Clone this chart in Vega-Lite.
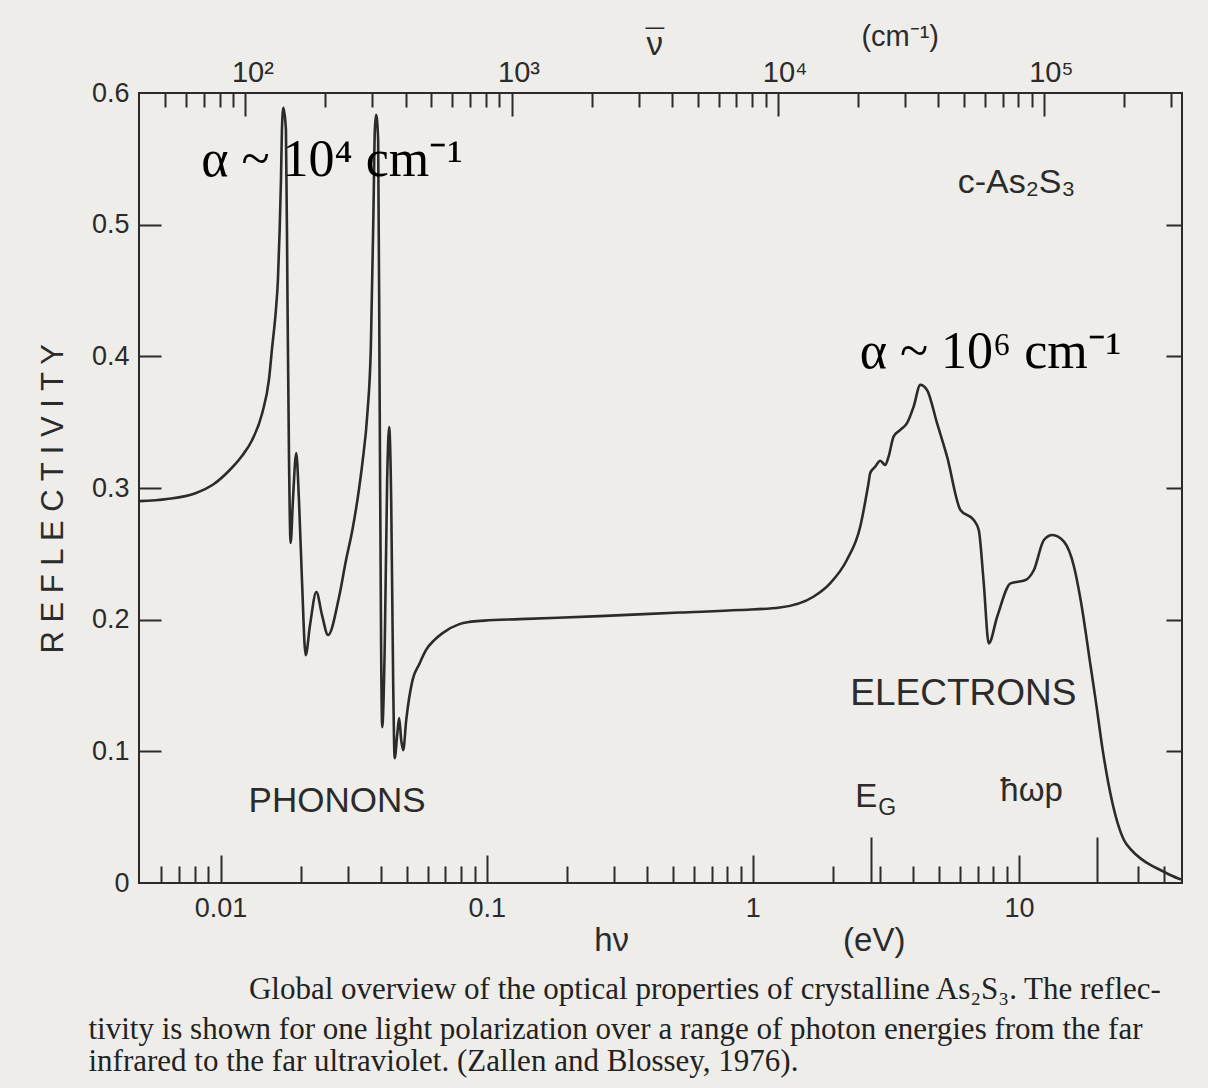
{
  "$schema": "https://vega.github.io/schema/vega-lite/v6.json",
  "width": 1043,
  "height": 790,
  "autosize": {"type": "none"},
  "padding": {"left": 139, "top": 93, "right": 26, "bottom": 205},
  "background": "#eeede9",
  "config": {
    "view": {"stroke": "#2b2b2b", "strokeWidth": 2},
    "axis": {
      "grid": false,
      "domain": false,
      "title": null,
      "tickColor": "#2b2b2b",
      "tickWidth": 2,
      "labelColor": "#2b2b2b",
      "labelFont": "Liberation Sans",
      "labelFontSize": 27,
      "labelOverlap": false,
      "labelFlush": false
    },
    "text": {"color": "#2b2b2b", "font": "Liberation Sans"}
  },
  "resolve": {"axis": {"x": "independent", "y": "independent"}},
  "layer": [
    {
      "data": {"values": [
        {"eV": 0.00494, "R": 0.2900}, {"eV": 0.00630, "R": 0.2916}, {"eV": 0.00805, "R": 0.2960},
        {"eV": 0.00944, "R": 0.3030}, {"eV": 0.01074, "R": 0.3129}, {"eV": 0.01203, "R": 0.3243},
        {"eV": 0.01315, "R": 0.3365}, {"eV": 0.01434, "R": 0.3568}, {"eV": 0.01520, "R": 0.3821},
        {"eV": 0.01564, "R": 0.4074}, {"eV": 0.01611, "R": 0.4328}, {"eV": 0.01643, "R": 0.4581},
        {"eV": 0.01668, "R": 0.4961}, {"eV": 0.01687, "R": 0.5341}, {"eV": 0.01701, "R": 0.5721},
        {"eV": 0.01723, "R": 0.5888}, {"eV": 0.01761, "R": 0.5720}, {"eV": 0.01785, "R": 0.4428},
        {"eV": 0.01807, "R": 0.3288}, {"eV": 0.01834, "R": 0.2582}, {"eV": 0.01871, "R": 0.2909},
        {"eV": 0.01925, "R": 0.3266}, {"eV": 0.01971, "R": 0.2909}, {"eV": 0.02023, "R": 0.2300},
        {"eV": 0.02089, "R": 0.1731}, {"eV": 0.02169, "R": 0.1959}, {"eV": 0.02291, "R": 0.2210},
        {"eV": 0.02406, "R": 0.2035}, {"eV": 0.02535, "R": 0.1883}, {"eV": 0.02788, "R": 0.2172},
        {"eV": 0.02962, "R": 0.2453}, {"eV": 0.03129, "R": 0.2681}, {"eV": 0.03289, "R": 0.2947},
        {"eV": 0.03412, "R": 0.3190}, {"eV": 0.03564, "R": 0.3570}, {"eV": 0.03671, "R": 0.4072},
        {"eV": 0.03754, "R": 0.5090}, {"eV": 0.03800, "R": 0.5720}, {"eV": 0.03843, "R": 0.5835},
        {"eV": 0.03910, "R": 0.5644}, {"eV": 0.03962, "R": 0.3668}, {"eV": 0.04013, "R": 0.1768},
        {"eV": 0.04049, "R": 0.1184}, {"eV": 0.04137, "R": 0.1768}, {"eV": 0.04227, "R": 0.3060},
        {"eV": 0.04301, "R": 0.3463}, {"eV": 0.04377, "R": 0.2910}, {"eV": 0.04452, "R": 0.1541},
        {"eV": 0.04511, "R": 0.0948}, {"eV": 0.04610, "R": 0.1123}, {"eV": 0.04690, "R": 0.1252},
        {"eV": 0.04773, "R": 0.1085}, {"eV": 0.04857, "R": 0.1009}, {"eV": 0.04985, "R": 0.1237},
        {"eV": 0.05264, "R": 0.1541}, {"eV": 0.05579, "R": 0.1662}, {"eV": 0.05912, "R": 0.1769},
        {"eV": 0.06354, "R": 0.1845}, {"eV": 0.06829, "R": 0.1898}, {"eV": 0.07891, "R": 0.1966},
        {"eV": 0.08606, "R": 0.1983}, {"eV": 0.09802, "R": 0.1993}, {"eV": 0.1328, "R": 0.2004},
        {"eV": 0.2656, "R": 0.2027}, {"eV": 0.5315, "R": 0.2054}, {"eV": 0.8941, "R": 0.2073},
        {"eV": 1.264, "R": 0.2092}, {"eV": 1.688, "R": 0.2174}, {"eV": 1.951, "R": 0.2276},
        {"eV": 2.255, "R": 0.2453}, {"eV": 2.531, "R": 0.2706}, {"eV": 2.720, "R": 0.3038},
        {"eV": 2.760, "R": 0.3114}, {"eV": 2.883, "R": 0.3162}, {"eV": 3.010, "R": 0.3207},
        {"eV": 3.144, "R": 0.3175}, {"eV": 3.235, "R": 0.3238}, {"eV": 3.378, "R": 0.3390},
        {"eV": 3.580, "R": 0.3441}, {"eV": 3.794, "R": 0.3492}, {"eV": 4.018, "R": 0.3618},
        {"eV": 4.257, "R": 0.3783}, {"eV": 4.511, "R": 0.3745}, {"eV": 4.920, "R": 0.3492},
        {"eV": 5.366, "R": 0.3238}, {"eV": 6.023, "R": 0.2833}, {"eV": 6.758, "R": 0.2757},
        {"eV": 7.057, "R": 0.2681}, {"eV": 7.370, "R": 0.2276}, {"eV": 7.697, "R": 0.1820},
        {"eV": 8.278, "R": 0.2022}, {"eV": 9.290, "R": 0.2276}, {"eV": 10.58, "R": 0.2301},
        {"eV": 11.37, "R": 0.2377}, {"eV": 12.40, "R": 0.2605}, {"eV": 13.34, "R": 0.2643},
        {"eV": 14.75, "R": 0.2592}, {"eV": 16.09, "R": 0.2402}, {"eV": 17.04, "R": 0.2149},
        {"eV": 18.59, "R": 0.1642}, {"eV": 19.41, "R": 0.1387}, {"eV": 20.63, "R": 0.1007},
        {"eV": 22.11, "R": 0.0667}, {"eV": 24.81, "R": 0.0325}, {"eV": 26.29, "R": 0.0256},
        {"eV": 28.67, "R": 0.0185}, {"eV": 31.27, "R": 0.0135}, {"eV": 34.11, "R": 0.0097},
        {"eV": 37.15, "R": 0.0059}, {"eV": 40.56, "R": 0.0026}
      ]},
      "mark": {"type": "line", "color": "#2b2b2b", "strokeWidth": 2.6, "interpolate": "monotone", "clip": true},
      "encoding": {
        "x": {"field": "eV", "type": "quantitative",
              "scale": {"type": "log", "domain": [0.00494, 40.95], "nice": false},
              "axis": {"orient": "bottom", "values": [0.01, 0.1, 1, 10], "format": "~g", "ticks": false, "labelPadding": 12}},
        "y": {"field": "R", "type": "quantitative",
              "scale": {"domain": [0, 0.6], "nice": false, "zero": false},
              "axis": {"orient": "left", "values": [0, 0.1, 0.2, 0.3, 0.4, 0.5, 0.6], "format": "~g", "ticks": false, "labelPadding": 10}}
      }
    },
    {
      "data": {"values": [
        {"t": "α ~ 10⁴ cm⁻¹", "eV": 0.02624, "R": 0.5493},
        {"t": "α ~ 10⁶ cm⁻¹", "eV": 7.811, "R": 0.4034}
      ]},
      "mark": {"type": "text", "font": "Liberation Serif", "fontSize": 52, "color": "#000000", "baseline": "middle"},
      "encoding": {
        "x": {"field": "eV", "type": "quantitative", "scale": {"type": "log", "domain": [0.00494, 40.95], "nice": false},
              "axis": {"orient": "bottom", "values": [0.01, 0.1, 1, 10], "labels": false, "tickSize": -28}},
        "y": {"field": "R", "type": "quantitative", "scale": {"domain": [0, 0.6], "nice": false, "zero": false},
              "axis": {"orient": "left", "values": [0.1, 0.2, 0.3, 0.4, 0.5], "labels": false, "tickSize": -22}},
        "text": {"field": "t"}
      }
    },
    {
      "data": {"values": [{"t": "PHONONS", "eV": 0.02741, "R": 0.0621}]},
      "mark": {"type": "text", "fontSize": 35, "baseline": "middle"},
      "encoding": {
        "x": {"field": "eV", "type": "quantitative", "scale": {"type": "log", "domain": [0.00494, 40.95], "nice": false},
              "axis": {"orient": "bottom", "labels": false, "tickSize": -17,
                       "values": [0.006, 0.007, 0.008, 0.009, 0.02, 0.03, 0.04, 0.05, 0.06, 0.07, 0.08, 0.09, 0.2, 0.3, 0.4, 0.5, 0.6, 0.7, 0.8, 0.9, 2, 3, 4, 5, 6, 7, 8, 9, 28, 35]}},
        "y": {"field": "R", "type": "quantitative", "scale": {"domain": [0, 0.6], "nice": false, "zero": false},
              "axis": {"orient": "right", "values": [0.1, 0.2, 0.3, 0.4, 0.5], "labels": false, "tickSize": -16}},
        "text": {"field": "t"}
      }
    },
    {
      "data": {"values": [{"t": "ELECTRONS", "eV": 6.182, "R": 0.1434}]},
      "mark": {"type": "text", "fontSize": 37, "baseline": "middle"},
      "encoding": {
        "x": {"field": "eV", "type": "quantitative", "scale": {"type": "log", "domain": [0.00494, 40.95], "nice": false},
              "axis": {"orient": "bottom", "values": [2.78, 19.7], "labels": false, "tickSize": -46}},
        "y": {"field": "R", "type": "quantitative", "scale": {"domain": [0, 0.6], "nice": false, "zero": false}, "axis": null},
        "text": {"field": "t"}
      }
    },
    {
      "data": {"values": [{"t": "c-As₂S₃", "eV": 9.786, "R": 0.5318}]},
      "mark": {"type": "text", "fontSize": 34, "baseline": "middle"},
      "encoding": {
        "x": {"field": "eV", "type": "quantitative", "scale": {"type": "log", "domain": [0.00494, 40.95], "nice": false},
              "axis": {"orient": "top", "values": [0.012398, 0.12398, 1.2398, 12.398], "labels": false, "tickSize": -23}},
        "y": {"field": "R", "type": "quantitative", "scale": {"domain": [0, 0.6], "nice": false, "zero": false}, "axis": null},
        "text": {"field": "t"}
      }
    },
    {
      "data": {"values": [
        {"t": "E", "eV": 2.666, "R": 0.0651},
        {"t": "ħωp", "eV": 11.14, "R": 0.0697},
        {"t": "hν", "eV": 0.2947, "R": -0.0443},
        {"t": "(eV)", "eV": 2.858, "R": -0.0443},
        {"t": "ν", "eV": 0.4279, "R": 0.6365},
        {"t": "¯", "eV": 0.4279, "R": 0.6382}
      ]},
      "mark": {"type": "text", "fontSize": 33, "baseline": "middle"},
      "encoding": {
        "x": {"field": "eV", "type": "quantitative", "scale": {"type": "log", "domain": [0.00494, 40.95], "nice": false},
              "axis": {"orient": "top", "labels": false, "tickSize": -14,
                       "values": [0.0061992, 0.007439, 0.0086789, 0.0099187, 0.011159, 0.024797, 0.037195, 0.049594, 0.061992, 0.07439, 0.086789, 0.099187, 0.11159, 0.24797, 0.37195, 0.49594, 0.61992, 0.7439, 0.86789, 0.99187, 1.1159, 2.4797, 3.7195, 4.9594, 6.1992, 7.439, 8.6789, 9.9187, 11.159, 24.797, 37.195]}},
        "y": {"field": "R", "type": "quantitative", "scale": {"domain": [0, 0.6], "nice": false, "zero": false}, "axis": null},
        "text": {"field": "t"}
      }
    },
    {
      "data": {"values": [{"t": "(cm⁻¹)", "eV": 3.577, "R": 0.6428}]},
      "mark": {"type": "text", "fontSize": 29, "baseline": "middle"},
      "encoding": {
        "x": {"field": "eV", "type": "quantitative", "scale": {"type": "log", "domain": [0.00494, 40.95], "nice": false},
              "axis": {"orient": "top", "values": [0.012398, 0.12398, 1.2398, 12.398], "ticks": false, "labelPadding": 6, "labelOffset": 7, "labelFontSize": 29,
                       "labelExpr": "datum.value < 0.05 ? '10²' : datum.value < 0.5 ? '10³' : datum.value < 5 ? '10⁴' : '10⁵'"}},
        "y": {"field": "R", "type": "quantitative", "scale": {"domain": [0, 0.6], "nice": false, "zero": false}, "axis": null},
        "text": {"field": "t"}
      }
    },
    {
      "data": {"values": [{"t": "G", "eV": 3.198, "R": 0.0570}]},
      "mark": {"type": "text", "fontSize": 23, "baseline": "middle"},
      "encoding": {
        "x": {"field": "eV", "type": "quantitative", "scale": {"type": "log", "domain": [0.00494, 40.95], "nice": false}, "axis": null},
        "y": {"field": "R", "type": "quantitative", "scale": {"domain": [0, 0.6], "nice": false, "zero": false}, "axis": null},
        "text": {"field": "t"}
      }
    },
    {
      "data": {"values": [{"t": "R E F L E C T I V I T Y", "eV": 0.002377, "R": 0.2918}]},
      "mark": {"type": "text", "fontSize": 31, "angle": 270, "baseline": "middle", "align": "center"},
      "encoding": {
        "x": {"field": "eV", "type": "quantitative", "scale": {"type": "log", "domain": [0.00494, 40.95], "nice": false}, "axis": null},
        "y": {"field": "R", "type": "quantitative", "scale": {"domain": [0, 0.6], "nice": false, "zero": false}, "axis": null},
        "text": {"field": "t"}
      }
    },
    {
      "data": {"values": [
        {"t": "Global overview of the optical properties of crystalline As₂S₃. The reflec-", "eV": 0.01278, "R": -0.0816},
        {"t": "tivity is shown for one light polarization over a range of photon energies from the far", "eV": 0.003191, "R": -0.112},
        {"t": "infrared to the far ultraviolet. (Zallen and Blossey, 1976).", "eV": 0.003191, "R": -0.1363}
      ]},
      "mark": {"type": "text", "font": "Liberation Serif", "fontSize": 31, "align": "left", "baseline": "middle", "color": "#222222"},
      "encoding": {
        "x": {"field": "eV", "type": "quantitative", "scale": {"type": "log", "domain": [0.00494, 40.95], "nice": false}, "axis": null},
        "y": {"field": "R", "type": "quantitative", "scale": {"domain": [0, 0.6], "nice": false, "zero": false}, "axis": null},
        "text": {"field": "t"}
      }
    }
  ]
}
